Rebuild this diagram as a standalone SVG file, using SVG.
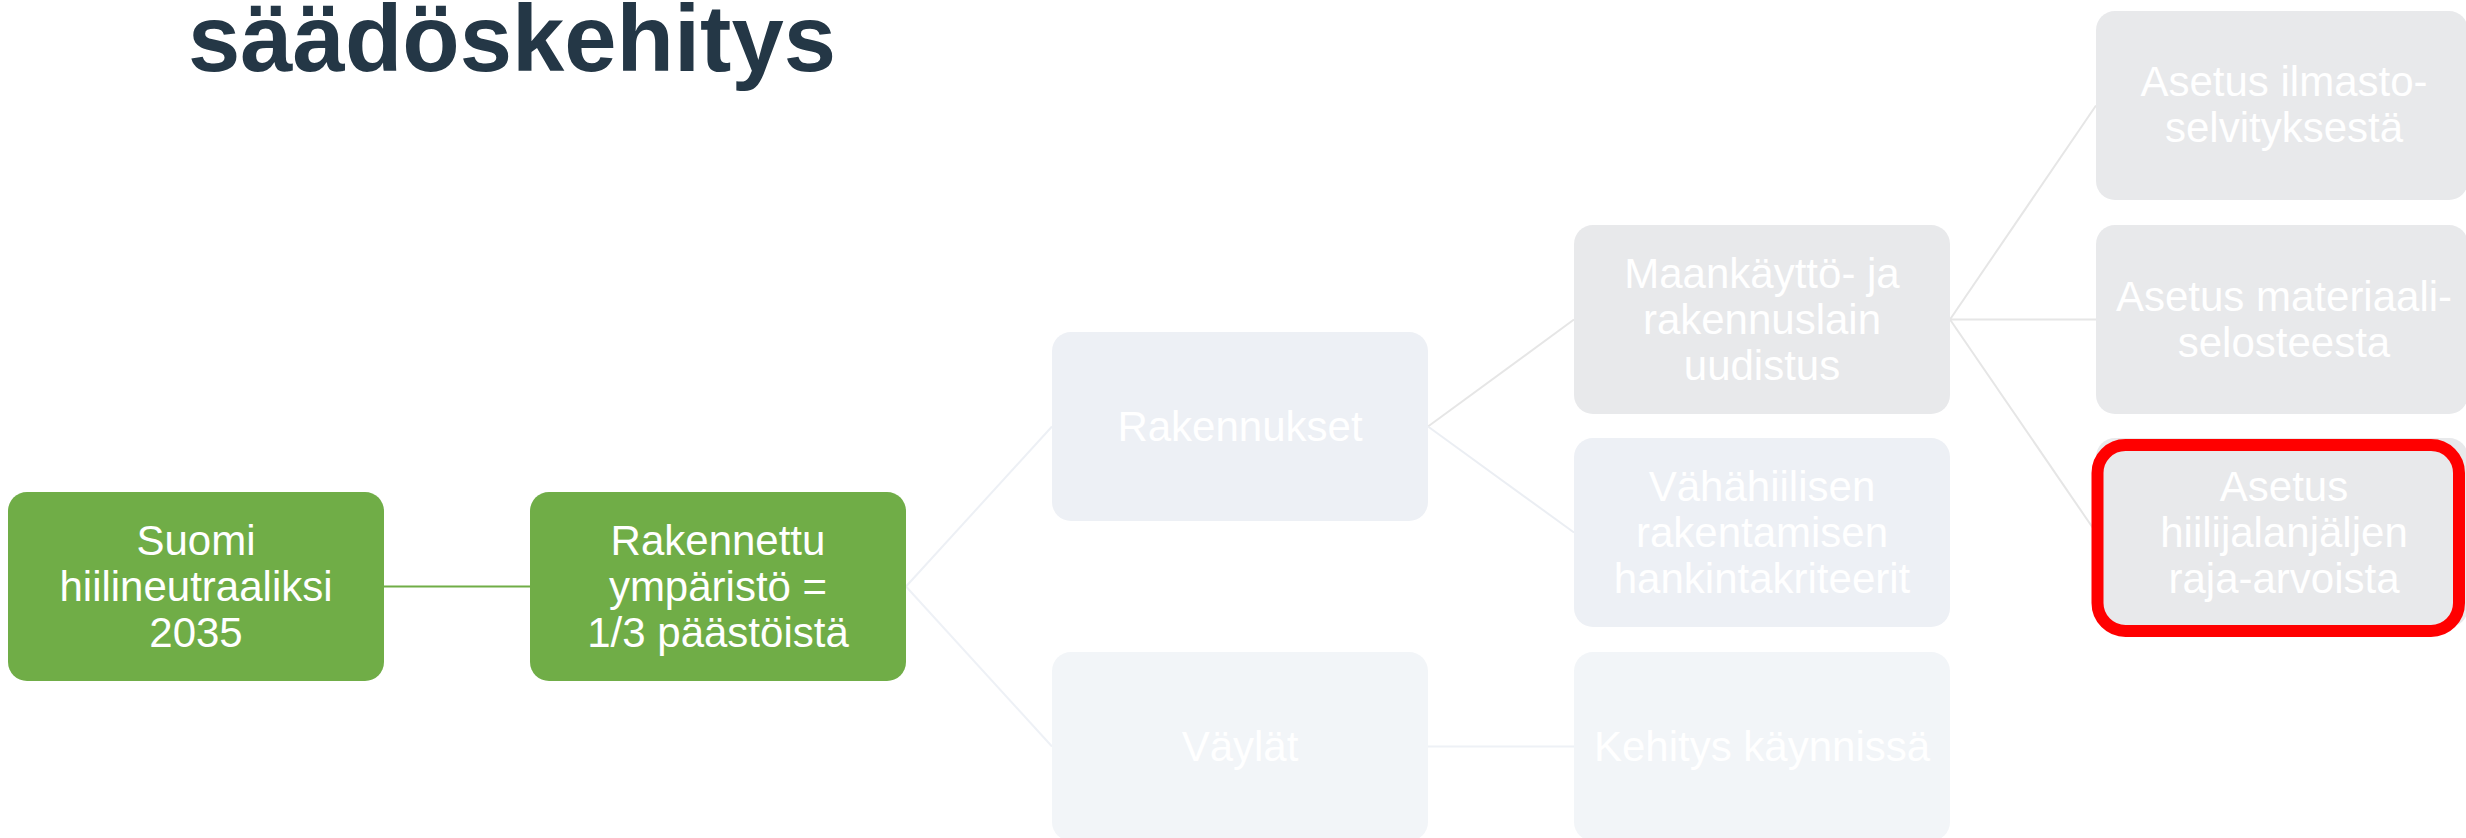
<svg xmlns="http://www.w3.org/2000/svg" width="2466" height="838" viewBox="0 0 2466 838">
  <style>
    .t { font-family: "Liberation Sans", Arial, sans-serif; font-size: 42px; fill: #FFFFFF; text-anchor: middle; }
    .title { font-family: "Liberation Sans", Arial, sans-serif; font-size: 94px; font-weight: bold; fill: #243746; text-anchor: middle; }
    .green { fill: #70AD47; }
    .blue { fill: #EDF0F5; }
    .pale { fill: #F2F5F8; }
    .grey { fill: #E8E9EB; }
    .conn { fill: none; stroke-width: 2; }
  </style>
  <rect width="2466" height="838" fill="#FFFFFF"/>
  <text class="title" x="512" y="71">säädöskehitys</text>

  <g id="connectors">
    <path class="conn" d="M384 586.5 H530" stroke="#70AD47" stroke-width="2.5"/>
    <path class="conn" d="M906 586.5 L1052 426.5" stroke="#EDF0F5"/>
    <path class="conn" d="M906 586.5 L1052 746.5" stroke="#EEF1F6"/>
    <path class="conn" d="M1428 426.5 L1574 319.5" stroke="#E6E6E6"/>
    <path class="conn" d="M1428 426.5 L1574 532.5" stroke="#EBEEF3"/>
    <path class="conn" d="M1428 746.5 H1574" stroke="#EEF1F6"/>
    <path class="conn" d="M1950 319.5 L2096 105.5" stroke="#E6E6E6"/>
    <path class="conn" d="M1950 319.5 H2096" stroke="#E6E6E6"/>
    <path class="conn" d="M1950 319.5 L2096 532.5" stroke="#E6E6E6"/>
  </g>

  <g id="node-suomi">
    <rect class="green" x="8" y="492" width="376" height="189" rx="19"/>
    <text class="t" x="196" y="555">Suomi</text>
    <text class="t" x="196" y="601">hiilineutraaliksi</text>
    <text class="t" x="196" y="647">2035</text>
  </g>
  <g id="node-rakennettu">
    <rect class="green" x="530" y="492" width="376" height="189" rx="19"/>
    <text class="t" x="718" y="555">Rakennettu</text>
    <text class="t" x="718" y="601">ympäristö =</text>
    <text class="t" x="718" y="647">1/3 päästöistä</text>
  </g>
  <g id="node-rakennukset">
    <rect class="blue" x="1052" y="332" width="376" height="189" rx="19"/>
    <text class="t" x="1240" y="441">Rakennukset</text>
  </g>
  <g id="node-vaylat">
    <rect class="pale" x="1052" y="652" width="376" height="189" rx="19"/>
    <text class="t" x="1240" y="761">Väylät</text>
  </g>
  <g id="node-maankaytto">
    <rect class="grey" x="1574" y="225" width="376" height="189" rx="19"/>
    <text class="t" x="1762" y="288">Maankäyttö- ja</text>
    <text class="t" x="1762" y="334">rakennuslain</text>
    <text class="t" x="1762" y="380">uudistus</text>
  </g>
  <g id="node-vahahiilisen">
    <rect class="blue" x="1574" y="438" width="376" height="189" rx="19"/>
    <text class="t" x="1762" y="501">Vähähiilisen</text>
    <text class="t" x="1762" y="547">rakentamisen</text>
    <text class="t" x="1762" y="593">hankintakriteerit</text>
  </g>
  <g id="node-kehitys">
    <rect class="pale" x="1574" y="652" width="376" height="189" rx="19"/>
    <text class="t" x="1762" y="761">Kehitys käynnissä</text>
  </g>
  <g id="node-ilmasto">
    <rect class="grey" x="2096" y="11" width="372" height="189" rx="19"/>
    <text class="t" x="2284" y="96">Asetus ilmasto-</text>
    <text class="t" x="2284" y="142">selvityksestä</text>
  </g>
  <g id="node-materiaali">
    <rect class="grey" x="2096" y="225" width="372" height="189" rx="19"/>
    <text class="t" x="2284" y="311">Asetus materiaali-</text>
    <text class="t" x="2284" y="357">selosteesta</text>
  </g>
  <g id="node-hiilijalanjalki">
    <rect class="grey" x="2096" y="438" width="372" height="189" rx="19"/>
    <rect x="2097.5" y="445" width="361.5" height="186" rx="28" fill="none" stroke="#FF0000" stroke-width="12"/>
    <text class="t" x="2284" y="501">Asetus</text>
    <text class="t" x="2284" y="547">hiilijalanjäljen</text>
    <text class="t" x="2284" y="593">raja-arvoista</text>
  </g>
</svg>
